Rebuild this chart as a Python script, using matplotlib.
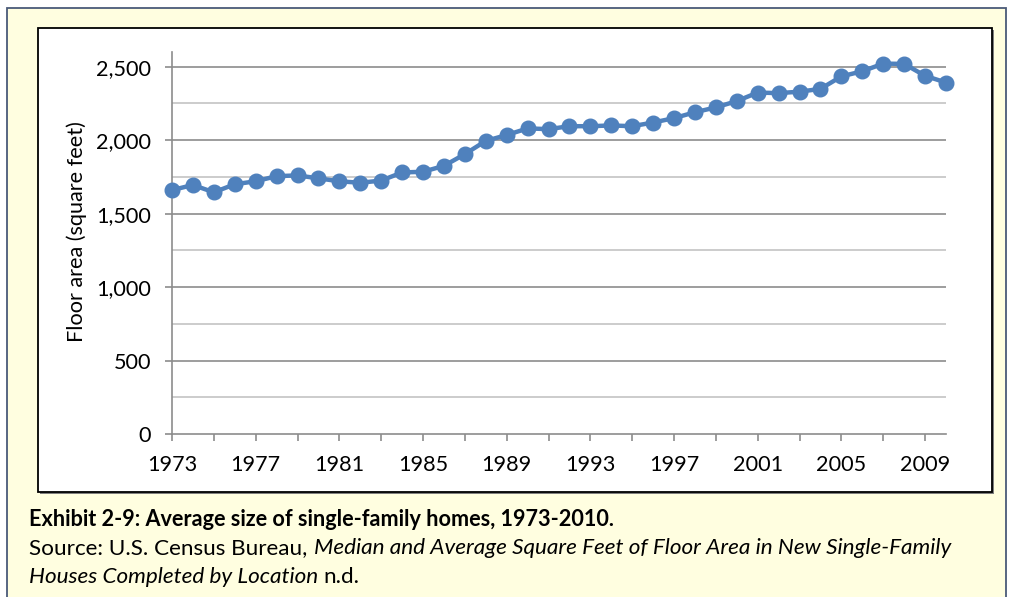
import matplotlib
matplotlib.use("Agg")
import matplotlib.pyplot as plt
from matplotlib.patches import Rectangle
from matplotlib.ticker import MultipleLocator, FuncFormatter

years = list(range(1973, 2011))
avg_sqft = [1660, 1695, 1645, 1700, 1720, 1755, 1760, 1740, 1720, 1710,
            1725, 1780, 1785, 1825, 1905, 1995, 2035, 2080, 2075, 2095,
            2095, 2100, 2095, 2120, 2150, 2190, 2223, 2266, 2324, 2320,
            2330, 2349, 2434, 2469, 2521, 2519, 2438, 2392]
x_labels = list(range(1973, 2011, 4))

W, H = 1013, 597
fig = plt.figure(figsize=(W / 100, H / 100), dpi=100)
fig.patch.set_facecolor("white")
FONT = ["Lato", "DejaVu Sans"]
FS = 15.6
FS_SRC = 16.2

def fx(px):
    return px / W

def fy(py):
    return 1 - py / H

# outer yellow box
fig.patches.append(Rectangle((fx(7), fy(600)), fx(999), (600 - 8) / H,
                             transform=fig.transFigure, facecolor="#FFFEE0",
                             edgecolor="#4A5A78", linewidth=1.3, zorder=0))
# inner chart box shadow
fig.patches.append(Rectangle((fx(40), fy(494)), fx(954), (494 - 30) / H,
                             transform=fig.transFigure, facecolor="#7F7F7F",
                             edgecolor="none", zorder=0.5))
# inner chart box
fig.patches.append(Rectangle((fx(38), fy(492)), fx(954), (492 - 28) / H,
                             transform=fig.transFigure, facecolor="white",
                             edgecolor="black", linewidth=1.3, zorder=1))

ax = fig.add_axes([fx(172), fy(434), fx(946 - 172), (434 - 52) / H])
ax.set_facecolor("none")
ax.set_zorder(2)
ax.set_xlim(1973, 2010)
ax.set_ylim(0, 2600)

for v in range(250, 2600, 250):
    major = (v % 500 == 0)
    ax.axhline(v, color="#8C8C8C" if major else "#C4C4C4",
               linewidth=1.2, zorder=1)

ax.plot(years, avg_sqft, color="#4F81BD", linewidth=3.2, marker="o",
        markersize=10.5, clip_on=False, zorder=3)

for s in ["top", "right"]:
    ax.spines[s].set_visible(False)
ax.spines["left"].set_color("#8C8C8C")
ax.spines["bottom"].set_color("#8C8C8C")
ax.spines["left"].set_linewidth(1.2)
ax.spines["bottom"].set_linewidth(1.2)

ax.yaxis.set_major_locator(MultipleLocator(500))
ax.yaxis.set_major_formatter(FuncFormatter(lambda v, p: f"{int(v):,}"))
ax.set_xticks(list(range(1973, 2011, 2)))
ax.set_xticklabels([str(y) if y in x_labels else "" for y in range(1973, 2011, 2)])
ax.tick_params(axis="both", colors="#8C8C8C", length=5, width=1.2,
               labelcolor="black", labelsize=FS)
ax.tick_params(axis="y", pad=10)
ax.tick_params(axis="x", pad=10)
for lab in ax.get_xticklabels() + ax.get_yticklabels():
    lab.set_fontfamily(FONT)

fig.text(fx(77), fy(232), "Floor area (square feet)", fontsize=FS, family=FONT,
         rotation=90, ha="center", va="center")

fig.text(fx(29), fy(520), "Exhibit 2-9: Average size of single-family homes, 1973-2010.",
         fontsize=FS, fontweight="bold", family=FONT, va="center", ha="left")
s1 = fig.text(fx(29), fy(548), "Source: U.S. Census Bureau, ", fontsize=FS_SRC,
              family=FONT, va="center", ha="left")
fig.canvas.draw()
r = s1.get_window_extent()
fig.text(r.x1 / W + 0.001, fy(548),
         "Median and Average Square Feet of Floor Area in New Single-Family",
         fontsize=FS_SRC, style="italic", family=FONT, va="center", ha="left")
t2 = fig.text(fx(29), fy(577), "Houses Completed by Location", fontsize=FS_SRC,
              style="italic", family=FONT, va="center", ha="left")
fig.canvas.draw()
r2 = t2.get_window_extent()
fig.text(r2.x1 / W + 0.005, fy(577), "n.d.", fontsize=FS_SRC,
         family=FONT, va="center", ha="left")

fig.savefig("out.png", dpi=100, facecolor="white")
